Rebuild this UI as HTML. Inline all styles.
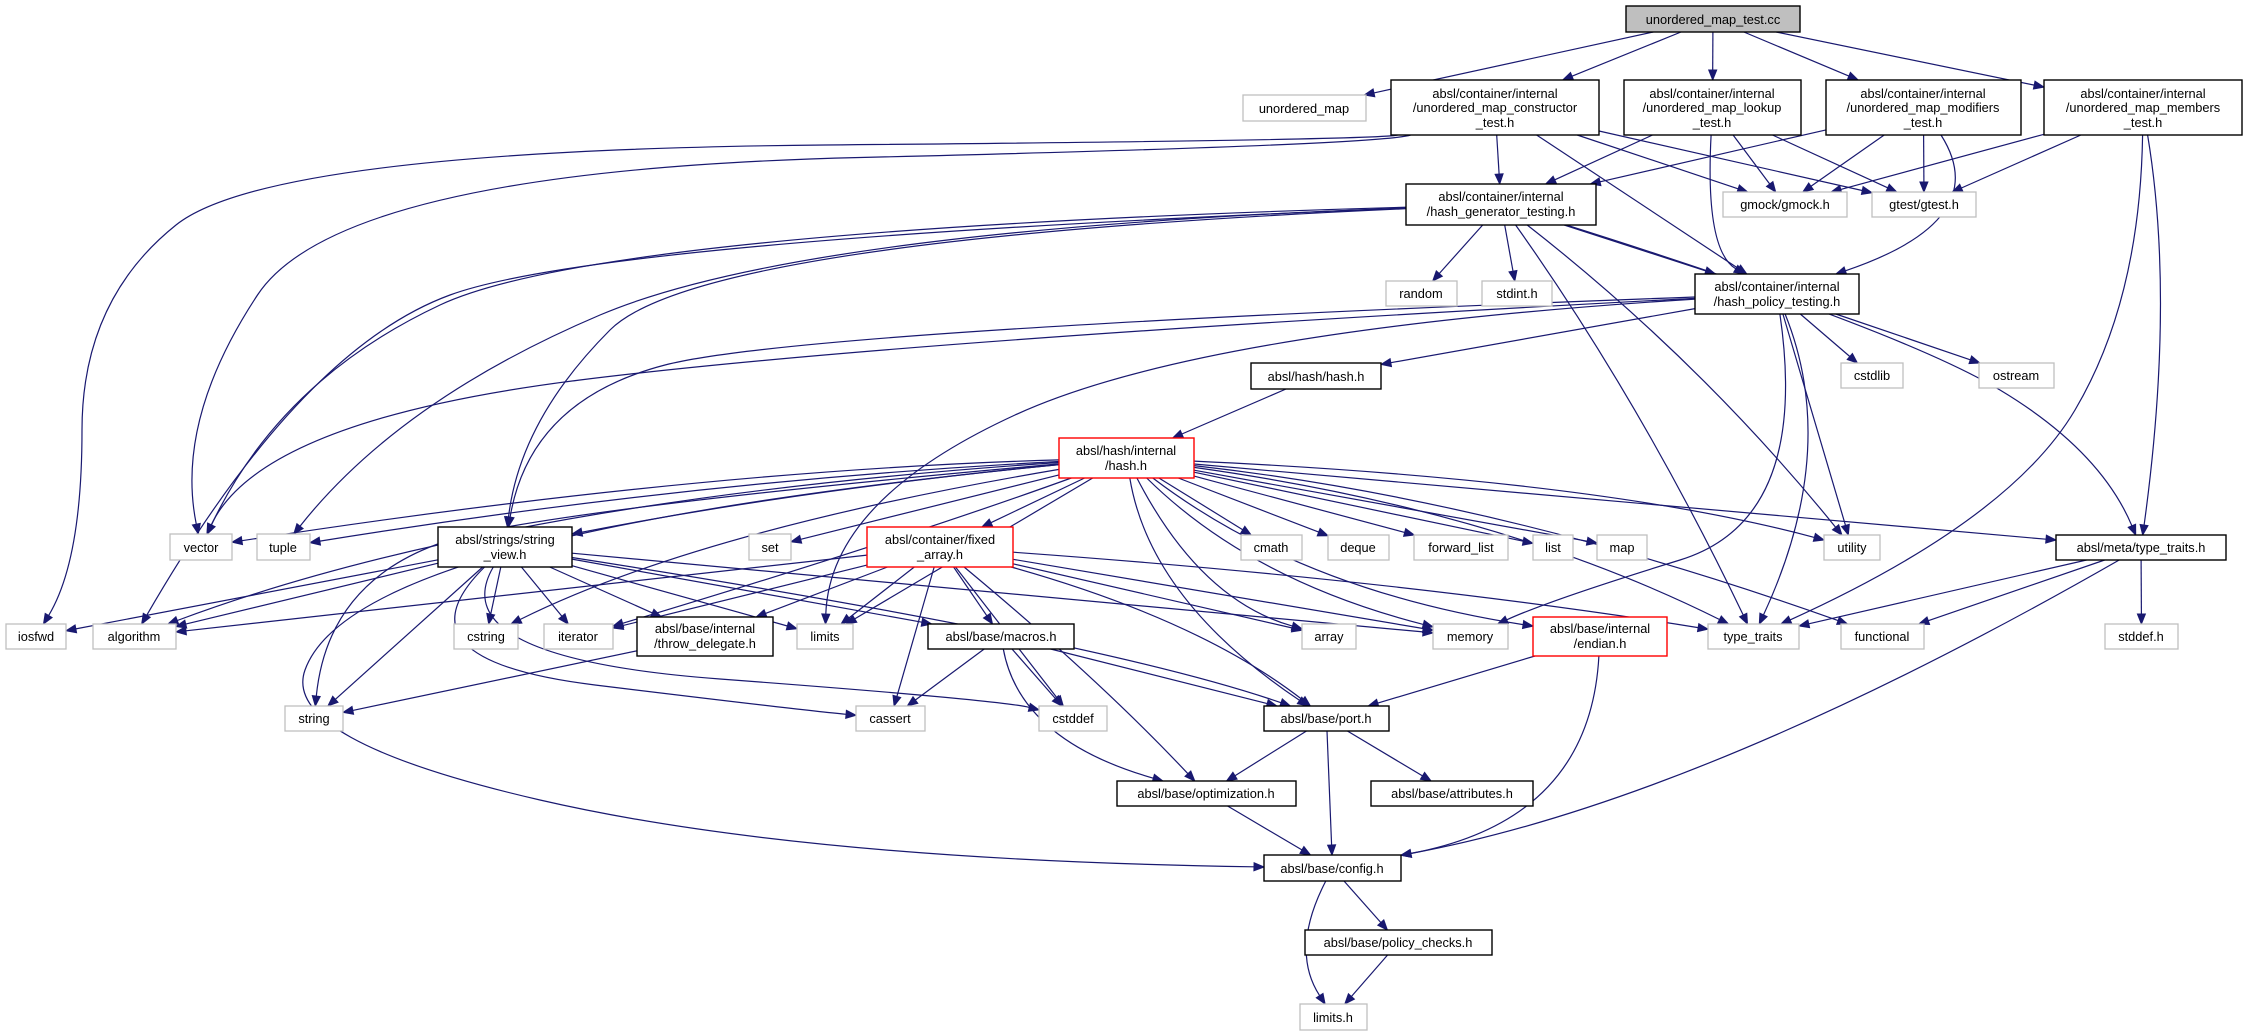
<!DOCTYPE html>
<html><head><meta charset="utf-8">
<style>
html,body{margin:0;padding:0;background:#fff;}
svg{display:block;}
text{font-family:"Liberation Sans","DejaVu Sans",sans-serif;font-size:12.8px;fill:#000;text-anchor:middle;}
.b{fill:#fff;stroke:#000;stroke-width:1.4;}
.g{fill:#fff;stroke:#bfbfbf;stroke-width:1.3;}
.r{fill:#fff;stroke:#ff0000;stroke-width:1.4;}
.m{fill:#bfbfbf;stroke:#000;stroke-width:1.4;}
.e{fill:none;stroke:#191970;stroke-width:1.2;}
.ah{fill:#191970;stroke:#191970;stroke-width:1;}
</style></head><body>
<svg id="s" width="2248" height="1036" viewBox="0 0 2248 1036" xmlns="http://www.w3.org/2000/svg">
<g id="edges"></g>
<g id="nodes">
<rect id="A" x="1626" y="6" width="174" height="26" class="m"/><text x="1713" y="24">unordered_map_test.cc</text>
<rect id="UM" x="1243" y="95" width="123" height="26" class="g"/><text x="1304" y="113">unordered_map</text>
<rect id="CT" x="1391" y="80" width="208" height="55" class="b"/><text x="1495" y="98">absl/container/internal</text><text x="1495" y="112">/unordered_map_constructor</text><text x="1495" y="127">_test.h</text>
<rect id="LK" x="1624" y="80" width="177" height="55" class="b"/><text x="1712" y="98">absl/container/internal</text><text x="1712" y="112">/unordered_map_lookup</text><text x="1712" y="127">_test.h</text>
<rect id="MO" x="1826" y="80" width="195" height="55" class="b"/><text x="1923" y="98">absl/container/internal</text><text x="1923" y="112">/unordered_map_modifiers</text><text x="1923" y="127">_test.h</text>
<rect id="ME" x="2044" y="80" width="198" height="55" class="b"/><text x="2143" y="98">absl/container/internal</text><text x="2143" y="112">/unordered_map_members</text><text x="2143" y="127">_test.h</text>
<rect id="HG" x="1406" y="184" width="190" height="41" class="b"/><text x="1501" y="201">absl/container/internal</text><text x="1501" y="216">/hash_generator_testing.h</text>
<rect id="GM" x="1723" y="192" width="124" height="25" class="g"/><text x="1785" y="209">gmock/gmock.h</text>
<rect id="GT" x="1872" y="192" width="104" height="25" class="g"/><text x="1924" y="209">gtest/gtest.h</text>
<rect id="RA" x="1386" y="281" width="71" height="25" class="g"/><text x="1421" y="298">random</text>
<rect id="SI" x="1482" y="281" width="70" height="25" class="g"/><text x="1517" y="298">stdint.h</text>
<rect id="HP" x="1695" y="274" width="164" height="40" class="b"/><text x="1777" y="291">absl/container/internal</text><text x="1777" y="306">/hash_policy_testing.h</text>
<rect id="HH" x="1251" y="363" width="130" height="26" class="b"/><text x="1316" y="381">absl/hash/hash.h</text>
<rect id="CS" x="1841" y="363" width="62" height="25" class="g"/><text x="1872" y="380">cstdlib</text>
<rect id="OS" x="1979" y="363" width="75" height="25" class="g"/><text x="2016" y="380">ostream</text>
<rect id="HI" x="1059" y="438" width="135" height="40" class="r"/><text x="1126" y="455">absl/hash/internal</text><text x="1126" y="470">/hash.h</text>
<rect id="VE" x="170" y="534" width="62" height="26" class="g"/><text x="201" y="552">vector</text>
<rect id="TU" x="257" y="534" width="53" height="26" class="g"/><text x="283" y="552">tuple</text>
<rect id="SV" x="438" y="527" width="134" height="40" class="b"/><text x="505" y="544">absl/strings/string</text><text x="505" y="559">_view.h</text>
<rect id="SE" x="749" y="534" width="42" height="26" class="g"/><text x="770" y="552">set</text>
<rect id="FA" x="867" y="527" width="146" height="40" class="r"/><text x="940" y="544">absl/container/fixed</text><text x="940" y="559">_array.h</text>
<rect id="CM" x="1241" y="535" width="61" height="25" class="g"/><text x="1271" y="552">cmath</text>
<rect id="DQ" x="1328" y="535" width="61" height="25" class="g"/><text x="1358" y="552">deque</text>
<rect id="FL" x="1414" y="535" width="94" height="25" class="g"/><text x="1461" y="552">forward_list</text>
<rect id="LI" x="1533" y="535" width="40" height="25" class="g"/><text x="1553" y="552">list</text>
<rect id="MP" x="1597" y="535" width="50" height="25" class="g"/><text x="1622" y="552">map</text>
<rect id="UT" x="1824" y="535" width="56" height="25" class="g"/><text x="1852" y="552">utility</text>
<rect id="TT" x="2056" y="535" width="170" height="25" class="b"/><text x="2141" y="552">absl/meta/type_traits.h</text>
<rect id="IO" x="6" y="624" width="60" height="25" class="g"/><text x="36" y="641">iosfwd</text>
<rect id="AL" x="93" y="624" width="83" height="25" class="g"/><text x="134" y="641">algorithm</text>
<rect id="CR" x="454" y="624" width="64" height="25" class="g"/><text x="486" y="641">cstring</text>
<rect id="IT" x="544" y="624" width="69" height="25" class="g"/><text x="578" y="641">iterator</text>
<rect id="TD" x="637" y="617" width="136" height="39" class="b"/><text x="705" y="633">absl/base/internal</text><text x="705" y="648">/throw_delegate.h</text>
<rect id="LM" x="797" y="624" width="56" height="25" class="g"/><text x="825" y="641">limits</text>
<rect id="MA" x="928" y="624" width="146" height="25" class="b"/><text x="1001" y="641">absl/base/macros.h</text>
<rect id="AR" x="1302" y="624" width="54" height="25" class="g"/><text x="1329" y="641">array</text>
<rect id="ME2" x="1433" y="624" width="75" height="25" class="g"/><text x="1470" y="641">memory</text>
<rect id="EN" x="1533" y="617" width="134" height="39" class="r"/><text x="1600" y="633">absl/base/internal</text><text x="1600" y="648">/endian.h</text>
<rect id="TY" x="1708" y="624" width="91" height="25" class="g"/><text x="1753" y="641">type_traits</text>
<rect id="FN" x="1841" y="624" width="83" height="25" class="g"/><text x="1882" y="641">functional</text>
<rect id="SD" x="2105" y="624" width="73" height="25" class="g"/><text x="2141" y="641">stddef.h</text>
<rect id="ST" x="285" y="706" width="58" height="25" class="g"/><text x="314" y="723">string</text>
<rect id="CA" x="856" y="706" width="69" height="25" class="g"/><text x="890" y="723">cassert</text>
<rect id="CD" x="1039" y="706" width="68" height="25" class="g"/><text x="1073" y="723">cstddef</text>
<rect id="PO" x="1264" y="706" width="125" height="25" class="b"/><text x="1326" y="723">absl/base/port.h</text>
<rect id="OP" x="1117" y="781" width="179" height="25" class="b"/><text x="1206" y="798">absl/base/optimization.h</text>
<rect id="AT" x="1371" y="781" width="162" height="25" class="b"/><text x="1452" y="798">absl/base/attributes.h</text>
<rect id="CF" x="1264" y="855" width="137" height="26" class="b"/><text x="1332" y="873">absl/base/config.h</text>
<rect id="PC" x="1305" y="930" width="187" height="25" class="b"/><text x="1398" y="947">absl/base/policy_checks.h</text>
<rect id="LH" x="1300" y="1004" width="67" height="26" class="g"/><text x="1333" y="1022">limits.h</text>
</g>
</svg>
<script>
(function(){
var E=[
["A","UM"],["A","CT"],["A","LK"],["A","MO"],["A","ME"],
["CT","HG"],["CT","HP"],["CT","GM"],["CT","GT"],
["CT","IO",[[1380,140],[270,150],[82,300],[82,560]]],
["CT","VE",[[1380,145],[340,170],[175,420]]],
["LK","HG"],["LK","HP",[[1705,250]]],["LK","GM"],["LK","GT"],
["MO","HG"],["MO","HP",[[1995,220]]],["MO","GM"],["MO","GT"],
["ME","GM"],["ME","GT"],["ME","TY",[[2140,300],[2010,520]]],["ME","TT",[[2175,300]]],
["HG","RA"],["HG","SI"],["HG","HP"],["HG","TT",[[1900,330],[2100,450]]],["HG","TY",[[1640,400]]],["HG","UT",[[1700,360]]],
["HG","SV",[[700,240],[520,420]]],["HG","TU",[[800,230],[400,400]]],["HG","AL",[[600,240],[300,350]]],["HG","VE",[[600,230],[280,380]]],
["HP","HH"],["HP","CS"],["HP","OS"],["HP","SV",[[800,330],[530,400]]],["HP","VE",[[900,340],[260,420]]],["HP","LM",[[1200,330],[830,500]]],
["HP","UT"],["HP","TY",[[1840,450]]],["HP","ME2",[[1810,520],[1550,600]]],
["HH","HI"],
["HI","VE",[[700,470]]],["HI","TU",[[700,480]]],["HI","SV",[[800,490]]],["HI","SE"],["HI","FA"],["HI","CM"],["HI","DQ"],["HI","FL"],["HI","LI"],["HI","MP"],
["HI","UT",[[1600,480]]],["HI","TT",[[1600,500]]],["HI","TY",[[1500,510]]],["HI","FN",[[1500,500]]],["HI","AR",[[1200,600]]],["HI","ME2",[[1250,580]]],["HI","EN",[[1300,590]]],
["HI","PO",[[1150,600]]],["HI","AL",[[500,500]]],["HI","CR",[[700,530]]],["HI","IT",[[900,540]]],["HI","LM"],["HI","ST",[[650,500],[330,560]]],
["HI","CF",[[700,500],[330,600],[280,740],[800,860]]],
["SV","IO"],["SV","AL"],["SV","CR"],["SV","IT"],["SV","TD"],["SV","LM"],["SV","MA"],["SV","ST"],
["SV","CA",[[390,660],[800,710]]],["SV","CD",[[440,658],[1000,700]]],["SV","PO",[[1100,640]]],["SV","ME2",[[1300,620]]],
["FA","AL"],["FA","IT"],["FA","LM"],["FA","TD"],["FA","MA"],["FA","CA"],["FA","CD"],["FA","AR"],["FA","ME2"],["FA","TY",[[1400,580]]],["FA","PO",[[1200,620]]],["FA","OP",[[1100,680]]],
["TD","ST"],
["MA","CA"],["MA","CD"],["MA","PO"],["MA","OP",[[1020,740]]],
["PO","OP"],["PO","CF"],["PO","AT"],
["EN","PO"],["EN","CF",[[1590,820]]],
["OP","CF"],
["TT","TY"],["TT","FN"],["TT","SD"],["TT","CF",[[1700,800]]],
["CF","PC"],["CF","LH",[[1290,950]]],["PC","LH"]
];
function R(id){var r=document.getElementById(id);var x=+r.getAttribute("x"),y=+r.getAttribute("y"),w=+r.getAttribute("width"),h=+r.getAttribute("height");return {x:x,y:y,w:w,h:h,cx:x+w/2,cy:y+h/2};}
function clip(r,px,py){var dx=px-r.cx,dy=py-r.cy;if(dx==0&&dy==0)return [r.cx,r.cy];var tx=dx!=0?(r.w/2)/Math.abs(dx):1e9,ty=dy!=0?(r.h/2)/Math.abs(dy):1e9;var t=Math.min(tx,ty);return [r.cx+dx*t,r.cy+dy*t];}
var g=document.getElementById("edges"),out="";
E.forEach(function(e){
 var a=R(e[0]),b=R(e[1]),v=e[2]||[];
 var f=v.length?v[0]:[b.cx,b.cy],l=v.length?v[v.length-1]:[a.cx,a.cy];
 var p0=clip(a,f[0],f[1]),p1=clip(b,l[0],l[1]);
 var dx=p1[0]-l[0],dy=p1[1]-l[1],L=Math.hypot(dx,dy)||1;dx/=L;dy/=L;
 var al=10,e2=[p1[0]-dx*al,p1[1]-dy*al];
 var pts=[p0].concat(v).concat([e2]);
 var d="M"+p0[0].toFixed(1)+" "+p0[1].toFixed(1);
 if(pts.length==2){d+=" L"+e2[0].toFixed(1)+" "+e2[1].toFixed(1);}
 else{for(var i=1;i<pts.length-1;i++){var m=(i==pts.length-2)?pts[i+1]:[(pts[i][0]+pts[i+1][0])/2,(pts[i][1]+pts[i+1][1])/2];d+=" Q"+pts[i][0]+" "+pts[i][1]+" "+m[0].toFixed(1)+" "+m[1].toFixed(1);}}
 out+='<path class="e" d="'+d+'"/>';
 var nx=-dy,ny=dx,w=4;
 out+='<polygon class="ah" points="'+p1[0].toFixed(1)+","+p1[1].toFixed(1)+" "+(e2[0]+nx*w).toFixed(1)+","+(e2[1]+ny*w).toFixed(1)+" "+(e2[0]-nx*w).toFixed(1)+","+(e2[1]-ny*w).toFixed(1)+'"/>';
});
g.innerHTML=out;
})();
</script>
</body></html>
